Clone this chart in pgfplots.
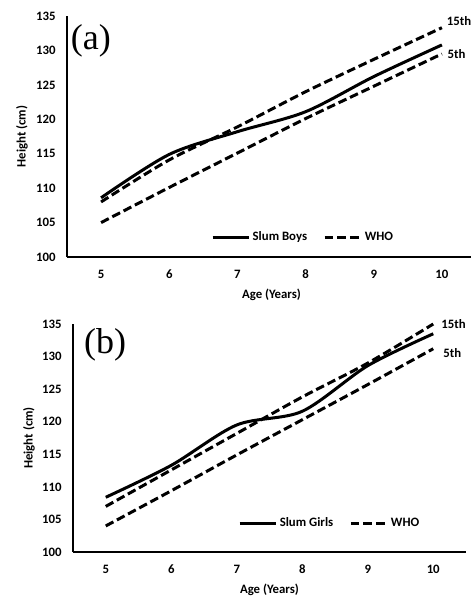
\documentclass[border=0pt]{standalone}
\usepackage{fontspec}
\setmainfont{Carlito}
\newfontfamily\timesfont{Liberation Serif}
\usepackage{pgfplots}
\pgfplotsset{compat=1.18}

\newcommand\lblfont{\fontsize{9.6}{11}\selectfont\bfseries}

\pgfplotsset{
  growth/.style={
    scale only axis,
    xmin=4.5, xmax=10.5,
    ymin=100, ymax=135,
    xtick={5,...,10},
    ytick={100,105,...,135},
    axis x line*=bottom,
    axis y line*=left,
    axis line style={-, line width=1pt, black},
    tick style={draw=none},
    clip=false,
    /pgf/number format/assume math mode=true,
    ticklabel style={font=\lblfont},
    yticklabel style={xshift=-5pt},
    xticklabel style={yshift=-6pt},
    label style={font=\lblfont},
    legend style={draw=none, fill=none, anchor=center, legend columns=2,
      font=\lblfont,
      /tikz/every even column/.append style={column sep=10pt}},
    legend image code/.code={\draw[#1] (0pt,0pt) -- (27pt,0pt);},
  },
  kid/.style={black, line width=2.25pt, smooth},
  who/.style={black, line width=2.25pt, smooth, dash pattern=on 6.5pt off 3pt},
}

\begin{document}
\begin{tikzpicture}
\path[use as bounding box] (0,0) rectangle (353.25pt,-447.75pt);

% (a) boys
\begin{axis}[growth,
    at={(50.25pt,-192.75pt)}, anchor=south west,
    width=306.75pt, height=180.75pt,
    xlabel={Age (Years)}, ylabel={Height (cm)},
    xlabel style={at={(axis description cs:0.5,-0.158)}, anchor=center},
    ylabel style={at={(axis description cs:-0.11,0.5)}, anchor=center},
    legend style={at={(0.578,0.083)}}]
\addplot[kid] coordinates {(5,108.6) (6,114.9) (7,118.2) (8,121.1) (9,126.2) (10,130.8)};
\addlegendentry{Slum Boys}
\addplot[who] coordinates {(5,108.0) (6,114.1) (7,118.9) (8,124.0) (9,128.7) (10,133.3)};
\addlegendentry{WHO}
\addplot[who, forget plot] coordinates {(5,105.0) (6,110.1) (7,115.1) (8,120.1) (9,124.8) (10,129.5)};
\node[font=\timesfont\fontsize{27}{30}\selectfont] at (axis cs:4.85,131.4) {(a)};
\node[anchor=west, inner sep=0pt, font=\lblfont] at (axis cs:10.07,134.3) {15th};
\node[anchor=west, inner sep=0pt, font=\lblfont] at (axis cs:10.08,129.5) {5th};
\end{axis}

% (b) girls
\begin{axis}[growth,
    at={(54.75pt,-414pt)}, anchor=south west,
    width=294.75pt, height=171pt,
    xlabel={Age (Years)}, ylabel={Height (cm)},
    xlabel style={at={(axis description cs:0.5,-0.167)}, anchor=center},
    ylabel style={at={(axis description cs:-0.112,0.5)}, anchor=center},
    legend style={at={(0.654,0.127)}}]
\addplot[kid] coordinates {(5,108.4) (6,113.3) (7,119.5) (8,121.6) (9,128.6) (10,133.5)};
\addlegendentry{Slum Girls}
\addplot[who] coordinates {(5,107.0) (6,112.6) (7,118.2) (8,123.8) (9,129.0) (10,135.0)};
\addlegendentry{WHO}
\addplot[who, forget plot] coordinates {(5,104.0) (6,109.4) (7,114.9) (8,120.3) (9,125.7) (10,131.2)};
\node[font=\timesfont\fontsize{27}{30}\selectfont] at (axis cs:4.99,131.8) {(b)};
\node[anchor=west, inner sep=0pt, font=\lblfont] at (axis cs:10.12,135.0) {15th};
\node[anchor=west, inner sep=0pt, font=\lblfont] at (axis cs:10.15,130.6) {5th};
\end{axis}
\end{tikzpicture}
\end{document}
